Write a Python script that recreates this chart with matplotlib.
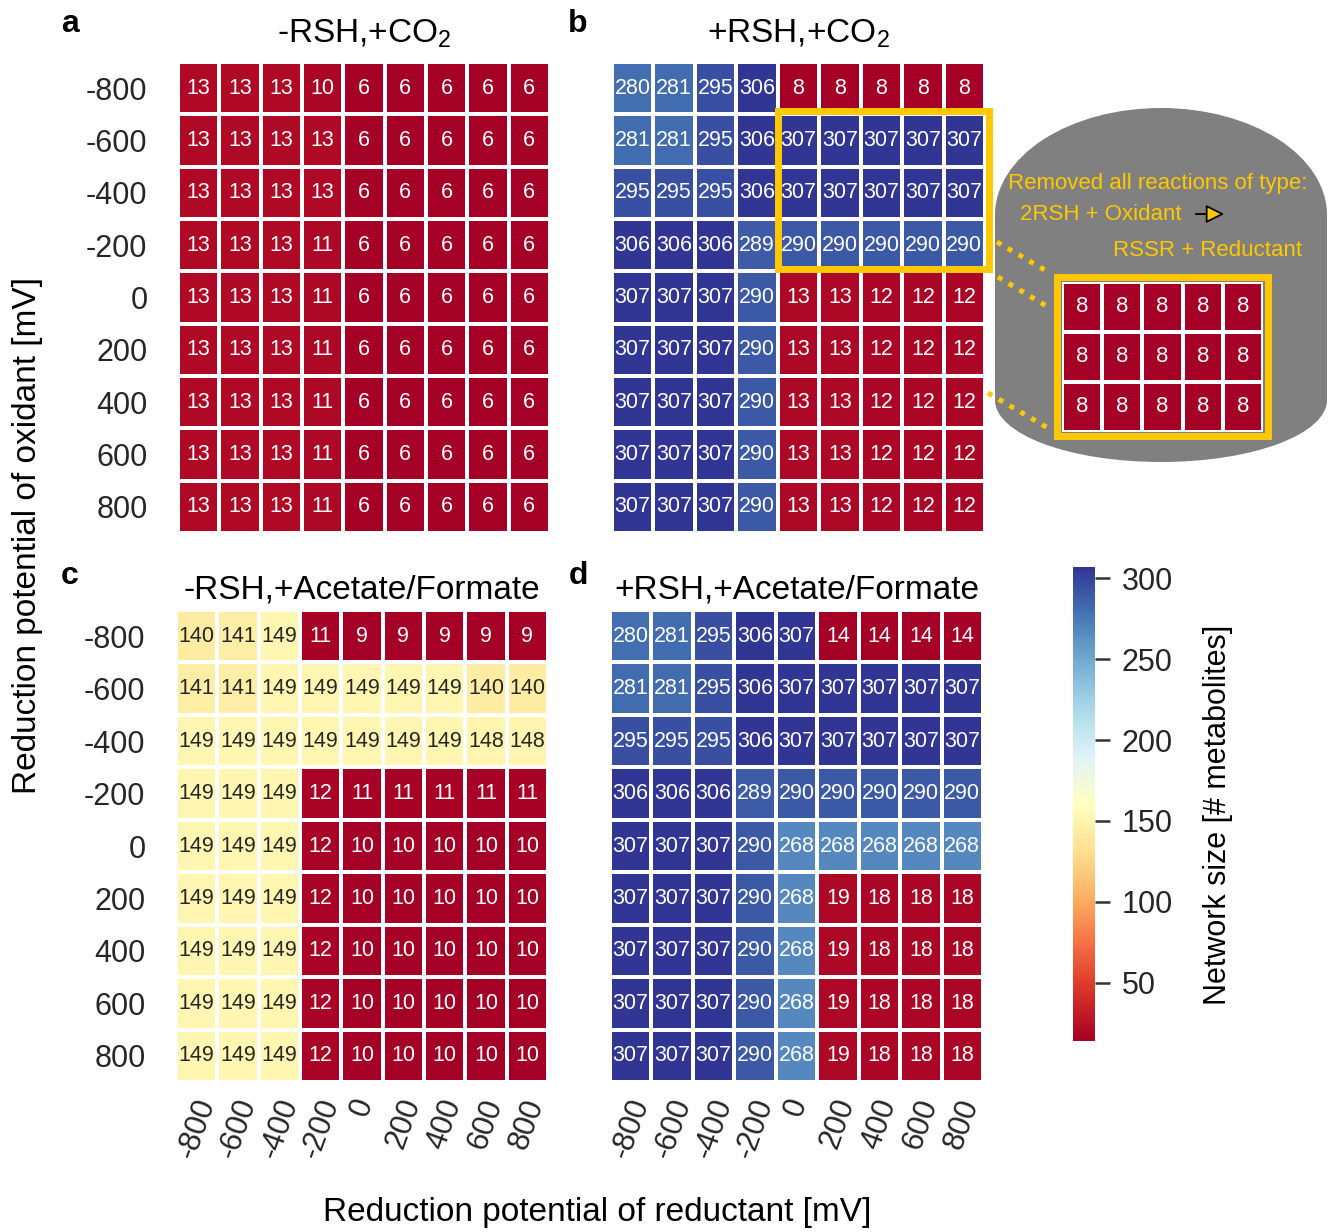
import numpy as np
import matplotlib
matplotlib.use("Agg")
import matplotlib.pyplot as plt
from matplotlib.colors import Normalize
from matplotlib.cm import ScalarMappable
from matplotlib.patches import Rectangle, Ellipse, FancyArrowPatch

plt.rcParams["font.family"] = ["Liberation Sans", "DejaVu Sans"]
plt.rcParams["mathtext.fontset"] = "custom"
plt.rcParams["mathtext.rm"] = "Liberation Sans"
plt.rcParams["mathtext.default"] = "regular"

# ---- data -------------------------------------------------------------
reductant_mV = ["-800", "-600", "-400", "-200", "0", "200", "400", "600", "800"]
oxidant_mV = ["-800", "-600", "-400", "-200", "0", "200", "400", "600", "800"]

rsh_minus_co2 = np.array([
    [13, 13, 13, 10, 6, 6, 6, 6, 6],
    [13, 13, 13, 13, 6, 6, 6, 6, 6],
    [13, 13, 13, 13, 6, 6, 6, 6, 6],
    [13, 13, 13, 11, 6, 6, 6, 6, 6],
    [13, 13, 13, 11, 6, 6, 6, 6, 6],
    [13, 13, 13, 11, 6, 6, 6, 6, 6],
    [13, 13, 13, 11, 6, 6, 6, 6, 6],
    [13, 13, 13, 11, 6, 6, 6, 6, 6],
    [13, 13, 13, 11, 6, 6, 6, 6, 6],
])

rsh_plus_co2 = np.array([
    [280, 281, 295, 306, 8, 8, 8, 8, 8],
    [281, 281, 295, 306, 307, 307, 307, 307, 307],
    [295, 295, 295, 306, 307, 307, 307, 307, 307],
    [306, 306, 306, 289, 290, 290, 290, 290, 290],
    [307, 307, 307, 290, 13, 13, 12, 12, 12],
    [307, 307, 307, 290, 13, 13, 12, 12, 12],
    [307, 307, 307, 290, 13, 13, 12, 12, 12],
    [307, 307, 307, 290, 13, 13, 12, 12, 12],
    [307, 307, 307, 290, 13, 13, 12, 12, 12],
])

rsh_minus_acetate = np.array([
    [140, 141, 149, 11, 9, 9, 9, 9, 9],
    [141, 141, 149, 149, 149, 149, 149, 140, 140],
    [149, 149, 149, 149, 149, 149, 149, 148, 148],
    [149, 149, 149, 12, 11, 11, 11, 11, 11],
    [149, 149, 149, 12, 10, 10, 10, 10, 10],
    [149, 149, 149, 12, 10, 10, 10, 10, 10],
    [149, 149, 149, 12, 10, 10, 10, 10, 10],
    [149, 149, 149, 12, 10, 10, 10, 10, 10],
    [149, 149, 149, 12, 10, 10, 10, 10, 10],
])

rsh_plus_acetate = np.array([
    [280, 281, 295, 306, 307, 14, 14, 14, 14],
    [281, 281, 295, 306, 307, 307, 307, 307, 307],
    [295, 295, 295, 306, 307, 307, 307, 307, 307],
    [306, 306, 306, 289, 290, 290, 290, 290, 290],
    [307, 307, 307, 290, 268, 268, 268, 268, 268],
    [307, 307, 307, 290, 268, 19, 18, 18, 18],
    [307, 307, 307, 290, 268, 19, 18, 18, 18],
    [307, 307, 307, 290, 268, 19, 18, 18, 18],
    [307, 307, 307, 290, 268, 19, 18, 18, 18],
])

# network sizes after removing the thiol/disulfide redox reactions
no_thiol_redox = np.array([
    [8, 8, 8, 8, 8],
    [8, 8, 8, 8, 8],
    [8, 8, 8, 8, 8],
])

VMAX = 307
cmap = plt.get_cmap("RdYlBu")
GOLD = "#FFC800"

# ---- figure -----------------------------------------------------------
W, H = 1336, 1232
fig = plt.figure(figsize=(W / 100, H / 100), dpi=100)


def px_axes(x0, y0, x1, y1, **kw):
    return fig.add_axes([x0 / W, 1 - y1 / H, (x1 - x0) / W, (y1 - y0) / H], **kw)


def luminance(rgba):
    rgb = np.array(rgba[:3])
    rgb = np.where(rgb <= 0.03928, rgb / 12.92, ((rgb + 0.055) / 1.055) ** 2.4)
    return 0.2126 * rgb[0] + 0.7152 * rgb[1] + 0.0722 * rgb[2]


def heatmap(ax, data, vmin=None, fs=15.5, xlabels=None, ylabels=None):
    nrows, ncols = data.shape
    norm = Normalize(data.min() if vmin is None else vmin, VMAX)
    mesh = ax.pcolormesh(np.arange(ncols + 1), np.arange(nrows + 1), data,
                         cmap=cmap, norm=norm, edgecolors="white", linewidth=1.5)
    ax.set_xlim(0, ncols)
    ax.set_ylim(nrows, 0)
    for i in range(nrows):
        for j in range(ncols):
            v = data[i, j]
            c = "0.15" if luminance(cmap(norm(v))) > 0.408 else "white"
            ax.text(j + 0.5, i + 0.5, str(v), ha="center", va="center",
                    color=c, fontsize=fs)
    for s in ax.spines.values():
        s.set_visible(False)
    ax.tick_params(length=0)
    if ylabels is not None:
        ax.set_yticks(np.arange(nrows) + 0.5)
        ax.set_yticklabels(ylabels)
        ax.tick_params(axis="y", pad=22, labelsize=22, labelcolor="0.15")
    else:
        ax.set_yticks([])
    if xlabels is not None:
        ax.set_xticks(np.arange(ncols) + 0.5)
        ax.set_xticklabels(xlabels, rotation=70)
        ax.tick_params(axis="x", pad=9, labelsize=22, labelcolor="0.15")
    else:
        ax.set_xticks([])
    return mesh


ax_a = px_axes(178, 62, 550, 533)
ax_b = px_axes(612, 62, 985, 533)
ax_c = px_axes(176, 610, 548, 1082)
ax_d = px_axes(610, 610, 983, 1082)

heatmap(ax_a, rsh_minus_co2, ylabels=oxidant_mV)
heatmap(ax_b, rsh_plus_co2)
heatmap(ax_c, rsh_minus_acetate, ylabels=oxidant_mV, xlabels=reductant_mV)
mesh_d = heatmap(ax_d, rsh_plus_acetate, xlabels=reductant_mV)

titles = [(ax_a, "-RSH,+CO$_2$", 14), (ax_b, "+RSH,+CO$_2$", 14),
          (ax_c, "-RSH,+Acetate/Formate", 8), (ax_d, "+RSH,+Acetate/Formate", 8)]
for ax, t, pad in titles:
    ax.set_title(t, fontsize=24, pad=pad)

for letter, x, y in [("a", 70, 24), ("b", 578, 24), ("c", 70, 576), ("d", 578, 576)]:
    fig.text(x / W, 1 - y / H, letter, fontsize=23, fontweight="bold",
             ha="center", va="center")

fig.text(28 / W, 1 - 535 / H, "Reduction potential of oxidant [mV]",
         rotation=90, fontsize=24, ha="center", va="center")
fig.text(597 / W, 1 - 1213 / H, "Reduction potential of reductant [mV]",
         fontsize=24, ha="center", va="center")

# highlighted block in panel b
ax_b.add_patch(Rectangle((4.0, 0.93), 5.09, 3.02, fill=False, edgecolor=GOLD,
                         linewidth=5, clip_on=False, zorder=5))

# colour bar
cax = px_axes(1073, 567, 1095, 1041)
cb = fig.colorbar(ScalarMappable(norm=mesh_d.norm, cmap=cmap), cax=cax)
cb.outline.set_visible(False)
cb.set_ticks([50, 100, 150, 200, 250, 300])
cax.tick_params(length=11, width=1.8, color="0.2", labelsize=22,
                labelcolor="0.15", pad=8)
fig.text(1218 / W, 1 - 815 / H, "Network size [# metabolites]", rotation=90,
         fontsize=22, ha="center", va="center")

# callout: grey panel with text and zoomed block
over = fig.add_axes([0, 0, 1, 1], zorder=5)
over.set_xlim(0, W)
over.set_ylim(H, 0)
over.axis("off")
grey = "#808080"
over.add_patch(Ellipse((1161, 215), 332, 214, facecolor=grey, edgecolor="none"))
over.add_patch(Rectangle((995, 215), 332, 185, facecolor=grey, edgecolor="none"))
over.add_patch(Ellipse((1161, 400), 332, 124, facecolor=grey, edgecolor="none"))

over.text(1008, 184, "Removed all reactions of type:", color=GOLD, fontsize=16,
          ha="left", va="center")
over.text(1020, 215, "2RSH + Oxidant", color=GOLD, fontsize=16,
          ha="left", va="center")
over.text(1113, 250, "RSSR + Reductant", color=GOLD, fontsize=16,
          ha="left", va="center")
over.add_patch(FancyArrowPatch((1193, 214), (1227, 214),
                               arrowstyle="-|>,head_length=7,head_width=3.5",
                               mutation_scale=1.6, facecolor=GOLD, edgecolor="black",
                               linewidth=1.3))

for (x0, y0), (x1, y1) in [((997, 242), (1050, 273)),
                           ((998, 277), (1048, 307)),
                           ((988, 393), (1048, 428))]:
    over.plot([x0, x1], [y0, y1], color=GOLD, linewidth=3.6,
              linestyle=(0, (1, 1.5)), solid_capstyle="butt",
              dash_capstyle="butt")

ax_in = px_axes(1062, 282, 1263, 432, zorder=6)
heatmap(ax_in, no_thiol_redox, vmin=rsh_plus_co2.min(), fs=16)
ax_in.add_patch(Rectangle((-0.12, -0.1), 5.24, 3.18, fill=False, edgecolor=GOLD,
                          linewidth=5, clip_on=False, zorder=5))

fig.savefig("out.png", dpi=100)
